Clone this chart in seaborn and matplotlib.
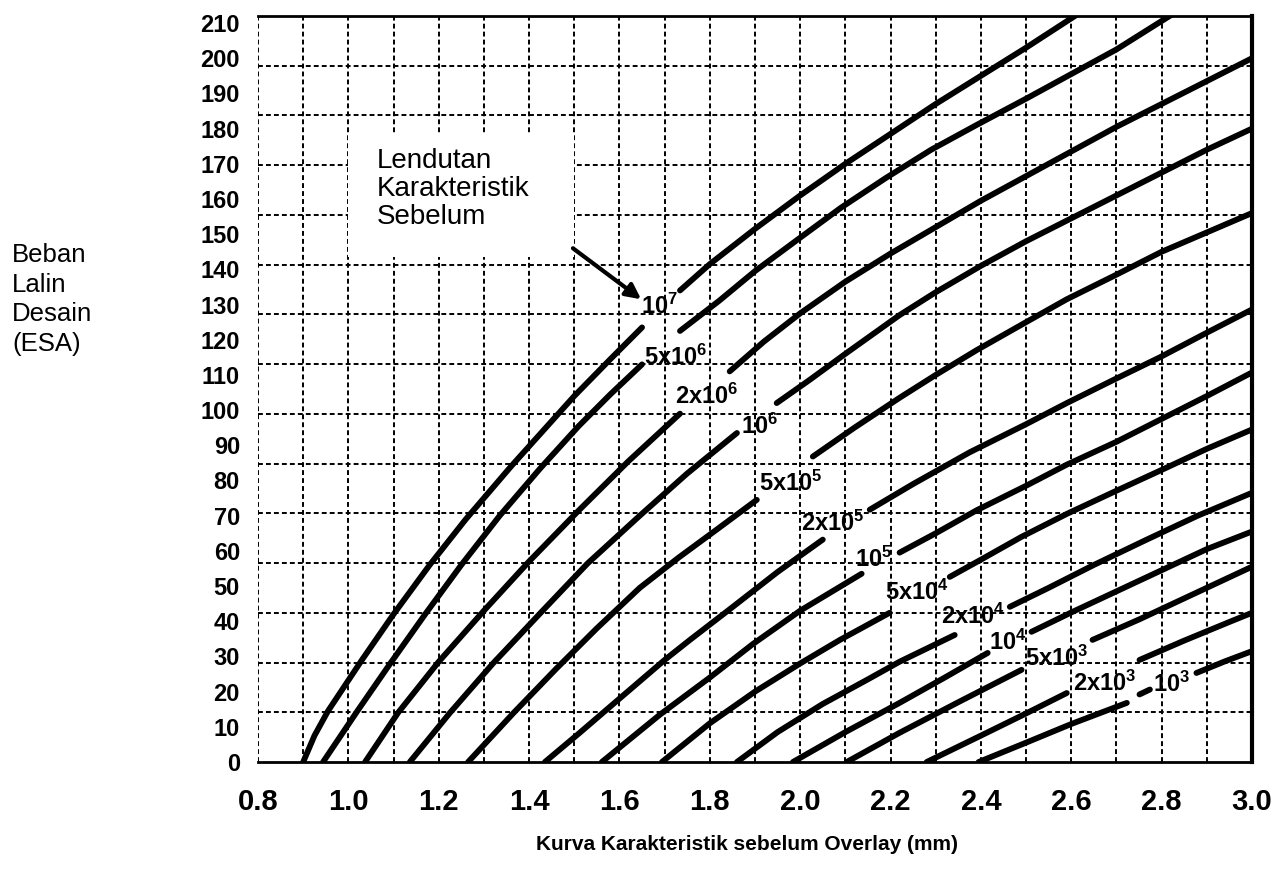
import numpy as np
import pandas as pd
import seaborn as sns
import matplotlib.pyplot as plt
from matplotlib.patches import Rectangle

# Kurva lendutan karakteristik. None = celah tempat label
x_1e7 = [0.90, 0.925, 0.955, 1.03, 1.10, 1.18, 1.26, 1.36, 1.43, 1.50, 1.58, 1.65, None,
         1.734, 1.80, 1.90, 2.00, 2.10, 2.20, 2.30, 2.40, 2.50, 2.62]
y_1e7 = [0, 7.5, 14.5, 29, 42, 56, 69, 84, 94, 104, 114.5, 123.5, None,
         134, 141.5, 151.5, 161, 170, 178.5, 187, 195, 203, 213]

x_5e6 = [0.944, 1.02, 1.09, 1.17, 1.25, 1.335, 1.425, 1.51, 1.58, 1.65, None,
         1.734, 1.82, 1.90, 2.00, 2.09, 2.19, 2.29, 2.39, 2.50, 2.60, 2.70, 2.83]
y_5e6 = [0, 14.5, 27.5, 42, 56, 70, 83.5, 95.5, 104.5, 113, None,
         122.5, 131, 139.5, 149, 157.5, 166, 174, 181, 188.5, 195.5, 202.5, 213]

x_2e6 = [1.037, 1.11, 1.20, 1.30, 1.40, 1.51, 1.62, 1.734, None,
         1.844, 1.92, 2.00, 2.10, 2.20, 2.30, 2.40, 2.50, 2.60, 2.70, 2.80, 2.90, 3.00]
y_2e6 = [0, 14, 28.5, 43, 57, 71.5, 85.5, 99, None,
         111, 119.5, 127.5, 136.5, 144.5, 152, 159.5, 166.5, 173.5, 180.5, 187, 193.5, 200]

x_1e6 = [1.136, 1.225, 1.32, 1.43, 1.53, 1.645, 1.75, 1.86, None,
         1.948, 2.02, 2.10, 2.22, 2.30, 2.40, 2.50, 2.60, 2.70, 2.80, 2.90, 3.00]
y_1e6 = [0, 14, 28, 43, 56.5, 70, 82, 93.5, None,
         102, 108.5, 116, 127, 133.5, 141, 148, 154.5, 161, 167.5, 174, 180]

x_5e5 = [1.265, 1.366, 1.46, 1.55, 1.645, 1.73, 1.82, 1.904, None,
         2.028, 2.12, 2.22, 2.30, 2.39, 2.50, 2.59, 2.70, 2.80, 2.90, 3.00]
y_5e5 = [0, 14, 26.5, 38, 49.5, 58, 66.5, 74.5, None,
         86.8, 95, 103.5, 110, 117, 125, 131.5, 138.5, 145, 150.5, 156]

x_2e5 = [1.435, 1.512, 1.60, 1.70, 1.756, 1.85, 1.95, 2.05, None,
         2.154, 2.25, 2.375, 2.50, 2.59, 2.70, 2.796, 2.90, 3.00]
y_2e5 = [0, 8.3, 18, 29, 34.7, 44, 54, 63.2, None,
         71.7, 79, 88, 96, 102, 109, 115, 122, 128.6]

x_1e5 = [1.561, 1.69, 1.80, 1.895, 2.00, 2.136, None,
         2.22, 2.30, 2.39, 2.50, 2.59, 2.70, 2.80, 2.90, 3.00]
y_1e5 = [0, 13.5, 24, 33.5, 43, 53.5, None,
         59.5, 65, 71.5, 78.5, 84.5, 91, 97.5, 104, 110.7]

x_5e4 = [1.694, 1.80, 1.90, 2.00, 2.088, 2.198, None,
         2.331, 2.40, 2.49, 2.59, 2.69, 2.80, 2.90, 3.00]
y_5e4 = [0, 11, 20, 28, 34.7, 42.4, None,
         52.6, 57.5, 64, 70.5, 76.5, 83, 89, 94.5]

x_2e4 = [1.86, 1.95, 2.05, 2.15, 2.22, 2.342, None,
         2.464, 2.55, 2.65, 2.767, 2.88, 3.00]
y_2e4 = [0, 8.5, 16.5, 23.5, 28.5, 36.1, None,
         44.1, 49.5, 56, 63.2, 70, 76.5]

x_1e4 = [1.984, 2.10, 2.22, 2.32, 2.415, None,
         2.512, 2.60, 2.70, 2.80, 2.90, 3.00]
y_1e4 = [0, 8.5, 16.8, 24, 31, None,
         37, 42.5, 48.5, 54.5, 60.5, 65.5]

x_5e3 = [2.103, 2.22, 2.35, 2.49, None, 2.647, 2.75, 2.85, 2.95, 3.00]
y_5e3 = [0, 8.3, 17, 26.2, None, 34.7, 40.5, 46.5, 52.5, 55.5]

x_2e3 = [2.28, 2.40, 2.50, 2.59, None, 2.751, 2.85, 2.95, 3.00]
y_2e3 = [0, 7.5, 13.8, 19.6, None, 29, 34.5, 39.8, 42.4]

x_1e3 = [2.395, 2.50, 2.60, 2.723, None, 2.751, 2.774, None, 2.877, 2.94, 3.00]
y_1e3 = [0, 5.5, 10.8, 16.8, None, 19.2, 20.6, None, 25.3, 28.6, 31.5]

curve_labels = [r'$\mathbf{10^7}$', r'$\mathbf{5x10^6}$', r'$\mathbf{2x10^6}$',
                r'$\mathbf{10^6}$', r'$\mathbf{5x10^5}$', r'$\mathbf{2x10^5}$',
                r'$\mathbf{10^5}$', r'$\mathbf{5x10^4}$', r'$\mathbf{2x10^4}$',
                r'$\mathbf{10^4}$', r'$\mathbf{5x10^3}$', r'$\mathbf{2x10^3}$',
                r'$\mathbf{10^3}$']
label_x = [1.689, 1.725, 1.793, 1.911, 1.979, 2.072, 2.163, 2.258, 2.382,
           2.459, 2.568, 2.674, 2.822]
label_y = [129.4, 114.9, 103.8, 95.3, 79.2, 67.7, 57.7, 48.1, 41.3,
           33.9, 29.6, 22.5, 22.2]

x_ticks = [0.8, 1.0, 1.2, 1.4, 1.6, 1.8, 2.0, 2.2, 2.4, 2.6, 2.8, 3.0]
y_ticks = list(range(0, 211, 10))

curves_x = [x_1e7, x_5e6, x_2e6, x_1e6, x_5e5, x_2e5, x_1e5,
            x_5e4, x_2e4, x_1e4, x_5e3, x_2e3, x_1e3]
curves_y = [y_1e7, y_5e6, y_2e6, y_1e6, y_5e5, y_2e5, y_1e5,
            y_5e4, y_2e4, y_1e4, y_5e3, y_2e3, y_1e3]

# data panjang, tiap potongan kurva jadi satu 'seg'
rows = []
seg = 0
for xs, ys in zip(curves_x, curves_y):
    for xv, yv in zip(xs, ys):
        if xv is None:
            seg += 1
            continue
        rows.append((xv, yv, seg))
    seg += 1
df = pd.DataFrame(rows, columns=['x', 'y', 'seg'])

sns.set_style('white')
plt.rcParams['font.family'] = ['Liberation Sans', 'DejaVu Sans']
plt.rcParams['text.color'] = 'black'
plt.rcParams['xtick.color'] = 'black'
plt.rcParams['ytick.color'] = 'black'
plt.rcParams['mathtext.fontset'] = 'custom'
plt.rcParams['mathtext.rm'] = 'Liberation Sans'
plt.rcParams['mathtext.bf'] = 'Liberation Sans:bold'
plt.rcParams['mathtext.it'] = 'Liberation Sans:italic'

W, H = 1278, 882
fig = plt.figure(figsize=(W / 100, H / 100), dpi=100)
ax = fig.add_axes([258 / W, 1 - 762 / H, (1252 - 258) / W, (762 - 16) / H])

sns.lineplot(data=df, x='x', y='y', units='seg', estimator=None, sort=False,
             color='black', linewidth=4.2, solid_capstyle='round', ax=ax,
             legend=False, zorder=3)

ax.set_xlim(0.8, 3.0)
ax.set_ylim(0, 212)
ax.set_xlabel('')
ax.set_ylabel('')

ax.set_xticks(x_ticks)
ax.set_xticklabels([f'{v:.1f}' for v in x_ticks], fontsize=21, fontweight='bold')
ax.set_xticks(np.arange(0.9, 2.95, 0.1), minor=True)
ax.set_yticks(y_ticks)
ax.set_yticklabels([str(v) for v in y_ticks], fontsize=17, fontweight='bold')
ax.set_yticks(np.linspace(0, 212, 16)[1:-1], minor=True)

ax.set_axisbelow(True)
grid_kw = dict(color='black', linewidth=1.4, linestyle=(0, (2.5, 1.6)))
ax.grid(which='both', axis='x', **grid_kw)
ax.grid(which='minor', axis='y', **grid_kw)
ax.grid(which='major', axis='y', visible=False)

ax.tick_params(axis='x', which='both', direction='out', length=12, width=1.4,
               pad=7, colors='black')
ax.tick_params(axis='y', which='major', direction='out', length=10, width=4,
               pad=3, colors='black')
ax.tick_params(axis='y', which='minor', length=0)

ax.spines['left'].set_visible(False)
ax.spines['top'].set_linewidth(2)
ax.spines['bottom'].set_linewidth(2)
ax.spines['right'].set_linewidth(3)
for s in ['top', 'bottom', 'right']:
    ax.spines[s].set_color('black')

# label tiap kurva
for txt, lx, ly in zip(curve_labels, label_x, label_y):
    ax.text(lx, ly, txt, ha='center', va='center', fontsize=17, zorder=5)

# kotak keterangan
ax.add_patch(Rectangle((1.0, 143.5), 0.5, 35, facecolor='white',
                       edgecolor='none', zorder=1))
ax.text(1.063, 174.5, 'Lendutan\nKarakteristik\nSebelum', ha='left', va='top',
        fontsize=20, linespacing=1.1, zorder=4)
ax.annotate('', xy=(1.648, 131.5), xytext=(1.497, 146),
            arrowprops=dict(arrowstyle='-|>,head_length=0.9,head_width=0.45',
                            lw=3, color='black', shrinkA=0, shrinkB=0),
            zorder=4)

fig.text(12 / W, 1 - 243 / H, 'Beban\nLalin\nDesain\n(ESA)', ha='left', va='top',
         fontsize=18.5, linespacing=1.3)
fig.text(747 / W, 1 - 845 / H, 'Kurva Karakteristik sebelum Overlay (mm)',
         ha='center', va='center', fontsize=15, fontweight='bold')

fig.savefig('out.png', dpi=100)
